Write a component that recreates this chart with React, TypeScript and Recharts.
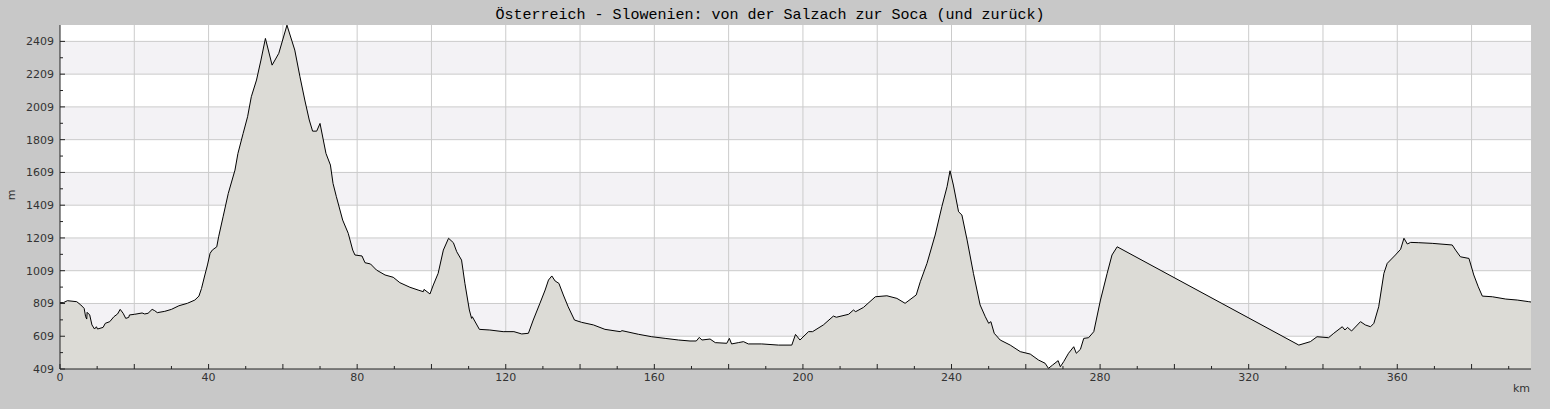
import React from 'react';
import { AreaChart, Area, XAxis, YAxis, CartesianGrid } from 'recharts';

const km = [0, 0.9, 2.0, 4.5, 5.6, 6.5, 6.9, 7.2, 7.3, 8.0, 8.6, 9.3, 9.8, 10.1, 11.6, 12.2, 13.4, 14.5, 15.5, 16.2, 17.0, 17.7, 18.5, 18.7, 20.1, 22.1, 22.8, 23.7, 24.8, 25.5, 26.2, 28.2, 30.0, 32.0, 34.3, 36.3, 37.4, 38.1, 39.0, 39.7, 40.4, 41.0, 42.2, 42.7, 43.9, 45.3, 47.1, 47.9, 49.3, 50.5, 51.5, 52.9, 54.1, 55.3, 57.1, 58.9, 61.1, 63.2, 64.6, 65.9, 67.1, 68.0, 69.1, 70.0, 71.6, 72.8, 73.5, 74.4, 76.1, 77.6, 78.8, 79.4, 81.3, 82.1, 83.6, 85.2, 87.5, 89.7, 91.5, 94.2, 96.4, 97.8, 98.0, 99.6, 100.5, 101.8, 103.2, 104.6, 105.9, 106.8, 108.1, 109.0, 110.2, 110.8, 111.0, 112.9, 115.7, 119.3, 122.2, 124.3, 126.1, 127.4, 129.2, 130.6, 131.5, 132.4, 133.3, 134.3, 135.5, 136.8, 138.5, 140.4, 143.6, 146.7, 150.8, 151.3, 155.7, 159.3, 162.9, 166.5, 169.6, 171.3, 172.1, 172.8, 175.0, 176.4, 179.5, 180.2, 180.8, 182.6, 184.0, 185.3, 188.9, 193.4, 197.0, 198.0, 199.2, 201.5, 202.6, 205.5, 208.2, 209.0, 212.3, 213.6, 214.2, 216.3, 219.5, 222.6, 225.3, 227.5, 230.5, 231.6, 233.4, 235.6, 237.4, 238.8, 239.6, 240.5, 241.9, 242.8, 244.2, 245.9, 247.7, 249.1, 250.0, 250.6, 251.5, 253.1, 255.8, 258.5, 261.2, 263.4, 265.2, 266.1, 267.2, 268.7, 269.3, 270.2, 271.5, 272.9, 273.6, 274.7, 275.6, 276.9, 278.3, 280.1, 281.9, 283.2, 284.6, 333.5, 336.6, 338.4, 341.5, 342.9, 345.2, 345.9, 346.6, 347.7, 350.1, 351.4, 352.8, 353.7, 355.0, 356.4, 357.3, 359.5, 360.9, 361.8, 362.7, 363.6, 365.8, 369.4, 374.8, 375.7, 377.0, 379.3, 380.6, 381.8, 382.9, 385.6, 389.2, 392.3, 395.4, 396];

const elevation = [814, 814, 826, 820, 800, 779, 728, 714, 755, 739, 678, 653, 667, 653, 663, 688, 698, 728, 745, 773, 749, 718, 724, 739, 743, 751, 745, 749, 773, 765, 753, 761, 773, 795, 810, 830, 854, 901, 983, 1044, 1115, 1135, 1155, 1216, 1338, 1481, 1623, 1725, 1847, 1949, 2071, 2173, 2295, 2427, 2264, 2336, 2508, 2356, 2193, 2051, 1929, 1861, 1861, 1908, 1725, 1654, 1542, 1461, 1318, 1237, 1135, 1105, 1099, 1058, 1050, 1013, 983, 969, 936, 908, 891, 881, 895, 867, 922, 993, 1135, 1207, 1180, 1125, 1074, 932, 769, 718, 728, 651, 647, 637, 637, 623, 627, 708, 810, 891, 952, 977, 946, 932, 861, 789, 708, 694, 678, 651, 637, 643, 621, 606, 596, 586, 580, 580, 602, 586, 592, 570, 566, 596, 562, 570, 576, 562, 562, 555, 555, 620, 586, 637, 637, 678, 732, 725, 743, 769, 759, 785, 850, 856, 840, 810, 861, 942, 1054, 1227, 1400, 1522, 1619, 1532, 1369, 1349, 1196, 993, 800, 728, 688, 698, 627, 586, 555, 515, 500, 464, 444, 413, 433, 460, 423, 454, 505, 545, 505, 529, 596, 600, 637, 830, 993, 1105, 1155, 555, 576, 606, 600, 627, 667, 647, 663, 641, 698, 678, 667, 688, 789, 993, 1054, 1105, 1140, 1207, 1172, 1182, 1180, 1176, 1166, 1135, 1094, 1084, 983, 911, 854, 850, 836, 830, 820, 818];

const xTicks = [0, 10, 20, 30, 40, 50, 60, 70, 80, 90, 100, 110, 120, 130, 140, 150, 160, 170, 180, 190, 200, 210, 220, 230, 240, 250, 260, 270, 280, 290, 300, 310, 320, 330, 340, 350, 360, 370, 380, 390];
const xLabelEvery = 40;
const xGridLines = [20, 40, 60, 80, 100, 120, 140, 160, 180, 200, 220, 240, 260, 280, 300, 320, 340, 360, 380];
const yTicks = [409, 509, 609, 709, 809, 909, 1009, 1109, 1209, 1309, 1409, 1509, 1609, 1709, 1809, 1909, 2009, 2109, 2209, 2309, 2409];
const yLabels = [409, 609, 809, 1009, 1209, 1409, 1609, 1809, 2009, 2209, 2409];
const yGridLines = [609, 809, 1009, 1209, 1409, 1609, 1809, 2009, 2209, 2409];
const yBandEdges = [409, 609, 809, 1009, 1209, 1409, 1609, 1809, 2009, 2209, 2409, 2509];

const title = 'Österreich - Slowenien: von der Salzach zur Soca (und zurück)';

const data = km.map((k, i) => ({ km: k, elev: elevation[i] }));

const tickFont = { fontFamily: 'DejaVu Sans', fontSize: 11, fill: '#333' };

const XTick = (props: any) => {
  const { x, y, payload } = props;
  const v = payload.value;
  const len = v % 20 === 0 ? 5 : 3;
  return (
    <g>
      <line x1={x} x2={x} y1={y} y2={y - len} stroke="#222" strokeWidth={1} />
      {v % xLabelEvery === 0 && (
        <text x={x} y={y + 12} textAnchor="middle" {...tickFont}>
          {v}
        </text>
      )}
    </g>
  );
};

const YTick = (props: any) => {
  const { x, y, payload } = props;
  const v = payload.value;
  const labeled = yLabels.includes(v);
  const len = labeled ? 5 : 3;
  return (
    <g>
      <line x1={x} x2={x + len} y1={y} y2={y} stroke="#222" strokeWidth={1} />
      {labeled && (
        <text x={x - 6} y={y + 4} textAnchor="end" {...tickFont}>
          {v}
        </text>
      )}
    </g>
  );
};

export default function App() {
  return (
    <div style={{ position: 'absolute', left: 0, top: 0, width: 1550, height: 409, background: '#c8c8c8' }}>
      <AreaChart width={1550} height={409} data={data} margin={{ top: 25, right: 19, bottom: 0, left: 0 }}>
        <CartesianGrid
          vertical={false}
          stroke="none"
          fill="#ffffff"
          horizontalValues={yBandEdges}
          horizontalFill={['#ffffff', '#f3f2f5']}
        />
        <CartesianGrid
          stroke="#cbcbcb"
          horizontalValues={yGridLines}
          verticalValues={xGridLines}
        />
        <XAxis
          type="number"
          dataKey="km"
          domain={[0, 396]}
          ticks={xTicks}
          interval={0}
          height={40}
          tickSize={0}
          tickMargin={0}
          tickLine={false}
          axisLine={{ stroke: '#222' }}
          tick={<XTick />}
          allowDataOverflow
        />
        <YAxis
          type="number"
          domain={[409, 2509]}
          ticks={yTicks}
          interval={0}
          width={60}
          tickSize={0}
          tickMargin={0}
          tickLine={false}
          axisLine={{ stroke: '#222' }}
          tick={<YTick />}
          allowDataOverflow
        />
        <Area
          type="linear"
          dataKey="elev"
          stroke="#000"
          strokeWidth={1}
          fill="#dcdbd6"
          fillOpacity={1}
          dot={false}
          activeDot={false}
          isAnimationActive={false}
        />
      </AreaChart>
      <svg width={1550} height={409} style={{ position: 'absolute', left: 0, top: 0, pointerEvents: 'none' }}>
        <text x={770} y={19} textAnchor="middle" fontFamily="Liberation Mono" fontSize={15} fill="#000">
          {title}
        </text>
        <text x={1530} y={392} textAnchor="end" {...tickFont}>km</text>
        <text x={14.5} y={195} textAnchor="middle" transform="rotate(-90 14.5 195)" {...tickFont}>m</text>
      </svg>
    </div>
  );
}
